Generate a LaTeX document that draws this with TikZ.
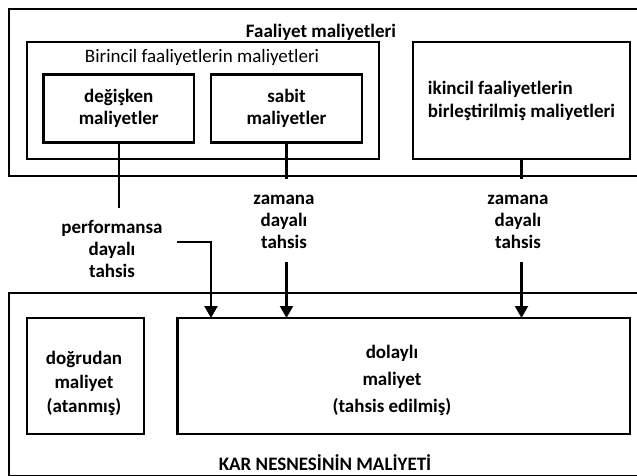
\documentclass[tikz,border=0pt]{standalone}
\usepackage{fontspec}
\setmainfont{Carlito}
\usetikzlibrary{arrows.meta,positioning,calc}

\begin{document}
\begin{tikzpicture}[
  x=1pt, y=-1pt,
  every node/.style={font=\fontsize{19}{22}\selectfont\bfseries,
                     inner sep=0pt, outer sep=0pt, align=center},
  costbox/.style ={draw=black, line width=2.2pt},
  plainlbl/.style={font=\fontsize{19}{22}\selectfont},
  link/.style    ={draw=black, line width=2.2pt},
  tip/.style     ={link, -{Triangle[length=12pt,width=13pt]}}]

\useasboundingbox (0,0) rectangle (637,476);
\clip (0,0) rectangle (637,476);

% =======================  activity costs  ============================
\node[costbox, minimum width=651pt, minimum height=167pt] (faal) at (334.5,92.5) {};
\node (faaltitle) at (321,32) {Faaliyet maliyetleri};

\node[costbox, minimum width=352pt, minimum height=117pt] (birincil) at (203,100.5) {};
\node[plainlbl] (birtitle) at (202,57) {Birincil faaliyetlerin maliyetleri};

\node[costbox, minimum width=150.5pt, minimum height=68pt] (degisken) at (118.75,108.5)
  {değişken\\maliyetler};
\node[costbox, minimum width=151pt, minimum height=68pt] (sabit) at (286.5,108.5)
  {sabit\\maliyetler};

\node[costbox, minimum width=217pt, minimum height=117pt, align=left] (ikincil) at (521.5,100.5)
  {ikincil faaliyetlerin\\[1pt]birleştirilmiş maliyetleri};

% =========================  allocations  =============================
\coordinate (degend)  at (118.75,208);
\coordinate (sabend)  at (286.5,179);
\coordinate (ikiend)  at (521.5,179);
\draw[link] (degisken.south) -- (degend);
\draw[link] (sabit.south) -- (sabend);
\draw[link] (ikincil.south) -- (ikiend);

\node (perf) at (112,249) {performansa\\dayalı\\tahsis};
\node (zam1) at (284,222) {zamana\\dayalı\\tahsis};
\node (zam2) at (518,222) {zamana\\dayalı\\tahsis};

% ======================  cost object  ================================
\node[costbox, minimum width=651pt, minimum height=183pt] (karnesne) at (334.5,384.5) {};
\node[costbox, minimum width=117pt, minimum height=116pt] (dogrudan) at (85.5,376) {};
\node (dogtext) at (84,383) {doğrudan\\[2pt]maliyet\\[2pt](atanmış)};
\node[costbox, minimum width=452.5pt, minimum height=116pt] (dolayli) at (403.75,376) {};
\node (doltext) at (392,380) {dolaylı\\[5pt]maliyet\\[5pt](tahsis edilmiş)};
\node (kartitle) at (325,463) {KAR NESNESİNİN MALİYETİ};

% arrows into the indirect cost
\coordinate (perfout)  at (177,242);
\coordinate (perfturn) at (211,242);
\coordinate (zam1out)  at (286.5,262);
\coordinate (zam2out)  at (521.5,262);
\draw[tip] (perfout) -- (perfturn) -- (perfturn |- dolayli.north);
\draw[tip] (zam1out) -- (zam1out |- dolayli.north);
\draw[tip] (zam2out) -- (zam2out |- dolayli.north);

\end{tikzpicture}
\end{document}
